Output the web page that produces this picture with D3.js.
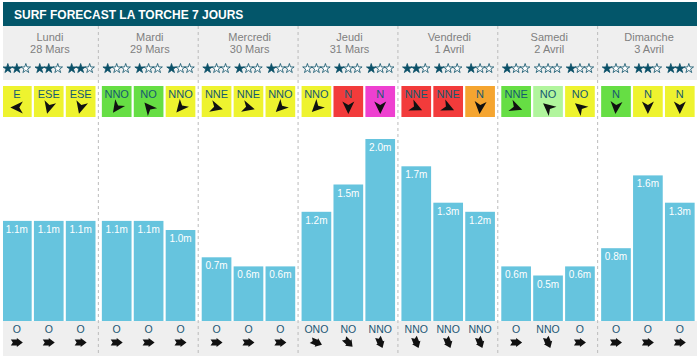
<!DOCTYPE html>
<html>
<head>
<meta charset="utf-8">
<script src="https://cdn.jsdelivr.net/npm/d3@7"></script>
<style>
  body { margin: 0; background: #fff; }
  svg { display: block; font-family: "Liberation Sans", Arial, sans-serif; }
</style>
</head>
<body>
<div id="chart"></div>
<script>
var width = 700, height = 359;

var days = ["Lundi", "Mardi", "Mercredi", "Jeudi", "Vendredi", "Samedi", "Dimanche"];
var dates = ["28 Mars", "29 Mars", "30 Mars", "31 Mars", "1 Avril", "2 Avril", "3 Avril"];

// 3 créneaux par jour
var stars = [2,2,2, 1,1,1, 1,1,1, 0,1,1, 2,1,1, 1,0,1, 1,2,2];
var windDir = ["E","ESE","ESE", "NNO","NO","NNO", "NNE","NNE","NNO", "NNO","N","N",
               "NNE","NNE","N", "NNE","NO","NO", "N","N","N"];
// angle de la flèche vent (0 = vers le bas)
var windAngle = [90,15,15, 35,140,40, -75,-75,45, 45,0,0, -65,-65,5, -70,130,130, 5,0,0];
// qualité du vent -> couleur de la case
var windQuality = ["ok","ok","ok", "good","good","ok", "ok","ok","ok", "ok","bad","worst",
                   "bad","bad","poor", "good","fair","ok", "good","ok","ok"];
var waveHeight = [1.1,1.1,1.1, 1.1,1.1,1.0, 0.7,0.6,0.6, 1.2,1.5,2.0, 1.7,1.3,1.2, 0.6,0.5,0.6, 0.8,1.6,1.3];
var swellDir = ["O","O","O", "O","O","O", "O","O","O", "ONO","NO","NNO",
                "NNO","NNO","NNO", "O","NNO","O", "O","O","O"];

var compass = {"N":0,"NNE":22.5,"NE":45,"ENE":67.5,"E":90,"ESE":112.5,"SE":135,"SSE":157.5,
               "S":180,"SSO":202.5,"SO":225,"OSO":247.5,"O":270,"ONO":292.5,"NO":315,"NNO":337.5};

var windColor = d3.scaleOrdinal()
  .domain(["good","fair","ok","poor","bad","worst"])
  .range(["#66de44","#b1f59d","#eef32f","#f5a530","#f23b3b","#ee40d0"]);

var svg = d3.select("#chart").append("svg")
  .attr("width", width)
  .attr("height", height);

var xDay = d3.scaleBand().domain(d3.range(7)).range([-1, 698]);
var xSlot = d3.scaleBand().domain([0,1,2]).range([3, 96.5]).paddingInner(0.07);
var y = d3.scaleLinear().domain([0, 2]).range([321, 139]);

var slots = d3.range(21).map(function(i) {
  return {
    i: i, day: Math.floor(i / 3), slot: i % 3,
    stars: stars[i], wind: windDir[i], angle: windAngle[i],
    quality: windQuality[i], h: waveHeight[i], swell: swellDir[i]
  };
});
function sx(d) { return Math.max(3, xDay(d.day) + xSlot(d.slot)); }
function cx(d) { return xDay(d.day) + xSlot(d.slot) + xSlot.bandwidth() / 2; }

// fonds
svg.append("rect").attr("x", 3).attr("y", 26).attr("width", 694).attr("height", 54).attr("fill", "#efefef");
svg.append("rect").attr("x", 3).attr("y", 321).attr("width", 694).attr("height", 35).attr("fill", "#efefef");
svg.append("rect").attr("x", 3).attr("y", 2).attr("width", 694).attr("height", 24).attr("fill", "#03566a");
svg.append("text")
  .attr("x", 14).attr("y", 19)
  .attr("fill", "#fff").attr("font-weight", "bold").attr("font-size", "12px")
  .text("SURF FORECAST LA TORCHE 7 JOURS");

// séparateurs
svg.selectAll(".sep")
  .data(d3.range(1, 7))
  .enter().append("line")
  .attr("class", "sep")
  .attr("x1", function(d) { return xDay(d) - 0.5; })
  .attr("x2", function(d) { return xDay(d) - 0.5; })
  .attr("y1", 26).attr("y2", 356)
  .attr("stroke", "#bbb").attr("stroke-dasharray", "3,3");

// en-têtes jours
var dayG = svg.selectAll(".day")
  .data(d3.range(7))
  .enter().append("g")
  .attr("class", "day");
dayG.append("text")
  .attr("x", function(d) { return xDay(d) + xDay.bandwidth() / 2 + 1; })
  .attr("y", 41)
  .attr("text-anchor", "middle").attr("font-size", "11px").attr("fill", "#808080")
  .text(function(d) { return days[d]; });
dayG.append("text")
  .attr("x", function(d) { return xDay(d) + xDay.bandwidth() / 2 + 1; })
  .attr("y", 53)
  .attr("text-anchor", "middle").attr("font-size", "11px").attr("fill", "#808080")
  .text(function(d) { return dates[d]; });

// étoiles
var starPath = d3.symbol().type(d3.symbolStar).size(28)();
var starG = svg.selectAll(".stars")
  .data(slots)
  .enter().append("g")
  .attr("class", "stars")
  .attr("transform", function(d) { return "translate(" + cx(d) + ",68.5)"; });
starG.selectAll("path")
  .data(function(d) { return [0,1,2].map(function(k) { return k < d.stars; }); })
  .enter().append("path")
  .attr("d", starPath)
  .attr("transform", function(d, k) { return "translate(" + ((k - 1) * 9) + ",0)"; })
  .attr("fill", function(d) { return d ? "#0b5068" : "#fff"; })
  .attr("stroke", "#0b5068").attr("stroke-width", 0.8);

// cases vent
var windG = svg.selectAll(".wind")
  .data(slots)
  .enter().append("g")
  .attr("class", "wind");
windG.append("rect")
  .attr("x", sx).attr("y", 86)
  .attr("width", function(d) { return xDay(d.day) + xSlot(d.slot) + xSlot.bandwidth() - sx(d); })
  .attr("height", 31)
  .attr("fill", function(d) { return windColor(d.quality); });
windG.append("text")
  .attr("x", cx).attr("y", 97.5)
  .attr("text-anchor", "middle").attr("font-size", "11px").attr("fill", "#155a70")
  .text(function(d) { return d.wind; });
windG.append("path")
  .attr("d", "M0,6.5L-6,-6L0,-2.5L6,-6Z")
  .attr("transform", function(d) { return "translate(" + cx(d) + ",107.5) rotate(" + d.angle + ")"; })
  .attr("fill", "#111");

// barres houle
var barG = svg.selectAll(".bar")
  .data(slots)
  .enter().append("g")
  .attr("class", "bar");
barG.append("rect")
  .attr("x", sx).attr("y", function(d) { return y(d.h); })
  .attr("width", function(d) { return xDay(d.day) + xSlot(d.slot) + xSlot.bandwidth() - sx(d); })
  .attr("height", function(d) { return y(0) - y(d.h); })
  .attr("fill", "#66c4de");
barG.append("text")
  .attr("x", cx).attr("y", function(d) { return y(d.h) + 12; })
  .attr("text-anchor", "middle").attr("font-size", "10px").attr("fill", "#fff")
  .text(function(d) { return d.h.toFixed(1) + "m"; });

// direction houle
var swellG = svg.selectAll(".swell")
  .data(slots)
  .enter().append("g")
  .attr("class", "swell");
swellG.append("text")
  .attr("x", cx).attr("y", 333)
  .attr("text-anchor", "middle").attr("font-size", "10.5px").attr("fill", "#1b5674")
  .text(function(d) { return d.swell; });
swellG.append("path")
  .attr("d", "M-6,-3L0,-3L0,-4.5L6,0L0,4.5L0,3L-6,3L-4,0Z")
  .attr("transform", function(d) {
    return "translate(" + cx(d) + ",342.5) rotate(" + (compass[d.swell] + 90) % 360 + ")";
  })
  .attr("fill", "#111");
</script>
</body>
</html>
